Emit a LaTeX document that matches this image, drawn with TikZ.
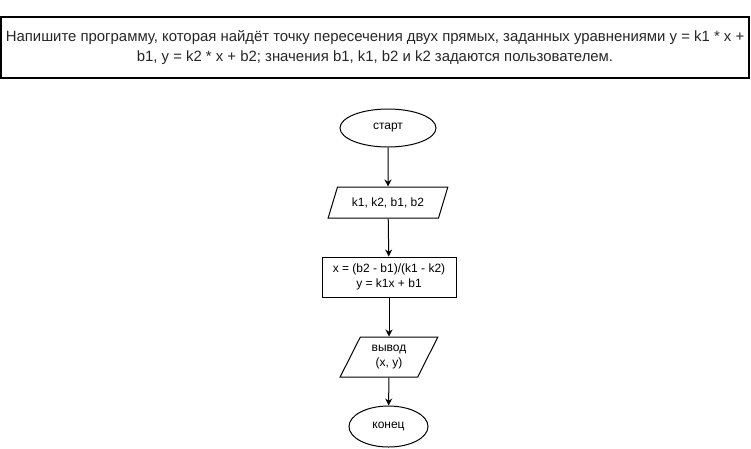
\documentclass[tikz,border=0pt]{standalone}
\usepackage{fontspec}
\setmainfont{Liberation Sans}
\usetikzlibrary{shapes.geometric,arrows.meta}
\begin{document}
\begin{tikzpicture}[x=1pt,y=-1pt,
  every node/.style={font=\fontsize{12}{15}\selectfont, align=center, inner sep=0pt, line width=1pt},
  term/.style={draw, ellipse},
  io/.style={draw, trapezium, trapezium stretches=true, trapezium left angle=#1, trapezium right angle=180-#1},
  proc/.style={draw, rectangle},
  arr/.style={-{Stealth[length=7pt,width=7pt]}, line width=1pt}]
\useasboundingbox (0,0) rectangle (751,448);
\node[proc, minimum width=748, minimum height=61, line width=1.2pt,
  font=\fontsize{14.9}{20}\selectfont, text=black!85] (task) at (375,47.5)
  {Напишите программу, которая найдёт точку пересечения двух прямых, заданных уравнениями y = k1 * x +\\
   b1, y = k2 * x + b2; значения b1, k1, b2 и k2 задаются пользователем.};
\node[term, minimum width=96, minimum height=38] (start) at (388,128) {старт};
\node[io=57, minimum width=120, minimum height=31] (in) at (388,202.5) {k1, k2, b1, b2};
\node[proc, minimum width=134, minimum height=40] (calc) at (389,277)
  {x = (b2 - b1)/(k1 - k2)\\y = k1x + b1};
\node[io=63, minimum width=98, minimum height=40] (out) at (389,357) {вывод\\(x, y)};
\node[term, minimum width=79, minimum height=41] (end) at (388.5,426.5) {конец};
\draw[arr] (start) -- (in);
\draw[arr] (in) -- (calc);
\draw[arr] (calc) -- (out);
\draw[arr] (out) -- (end);
\end{tikzpicture}
\end{document}
